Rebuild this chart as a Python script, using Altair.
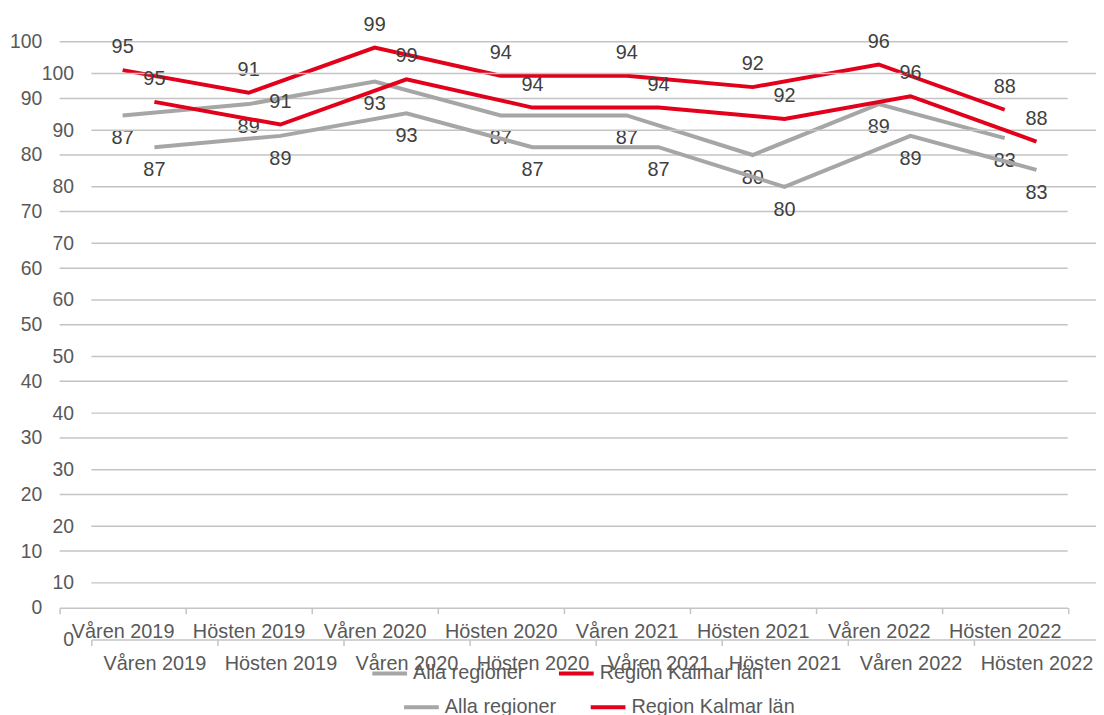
import altair as alt
import pandas as pd

periods = ["Våren 2019", "Hösten 2019", "Våren 2020", "Hösten 2020",
           "Våren 2021", "Hösten 2021", "Våren 2022", "Hösten 2022"]
kalmar = [95, 91, 99, 94, 94, 92, 96, 88]
alla = [87, 89, 93, 87, 87, 80, 89, 83]
series_names = ["Alla regioner", "Region Kalmar län"]
y_ticks = [0, 10, 20, 30, 40, 50, 60, 70, 80, 90, 100]

RED = "#E2001A"
GRAY = "#A6A6A6"
GRID = "#C4C4C4"
TXT = "#595959"
LBL = "#404040"
FONT = "Liberation Sans"
W, H = 1096, 707

rows = []
for p, a, k in zip(periods, alla, kalmar):
    rows.append({"period": p, "series": series_names[0], "value": a})
    rows.append({"period": p, "series": series_names[1], "value": k})
df = pd.DataFrame(rows)
grid_df = pd.DataFrame({"v": y_ticks[1:], "period": periods[0], "period_end": periods[-1]})


def build(xrange, yrange, x_off, y_off, lx, ly):
    xs = alt.Scale(type="band", domain=periods, range=xrange, paddingInner=0, paddingOuter=0)
    ys = alt.Scale(domain=[0, 100], range=yrange, nice=False, zero=False)
    xaxis = alt.Axis(orient="bottom", offset=x_off, title=None, grid=False, tickBand="extent",
                     domainColor=GRID, domainWidth=1.5, tickColor=GRID, tickWidth=1.5, tickSize=6,
                     labelFont=FONT, labelFontSize=20, labelColor=TXT, labelPadding=8,
                     labelAngle=0, labelOverlap=False)
    yaxis = alt.Axis(orient="left", offset=y_off, title=None, grid=False, ticks=False, domain=False,
                     values=y_ticks, labelFont=FONT, labelFontSize=19.5, labelColor=TXT,
                     labelPadding=0, labelOverlap=False, labelFlush=False)
    X = alt.X("period:N", scale=xs, axis=xaxis, bandPosition=0.5)
    grid = alt.Chart(grid_df).mark_rule(color=GRID, strokeWidth=1.5).encode(
        x=alt.X("period:N", scale=xs, axis=xaxis, bandPosition=0),
        x2=alt.X2("period_end", bandPosition=1),
        y=alt.Y("v:Q", scale=ys, axis=yaxis),
    )
    lines = alt.Chart(df).mark_line(strokeWidth=4).encode(
        x=X,
        y=alt.Y("value:Q", scale=ys, axis=yaxis),
        color=alt.Color("series:N", scale=alt.Scale(domain=series_names, range=[GRAY, RED]),
                        legend=alt.Legend(orient="none", legendX=lx, legendY=ly, direction="horizontal",
                                          title=None, symbolType="stroke", symbolSize=1225,
                                          symbolStrokeWidth=4, labelFont=FONT, labelFontSize=20,
                                          labelColor=TXT, labelOffset=4, columnPadding=26,
                                          labelLimit=0, padding=0)),
    )
    top = alt.Chart(df).transform_filter(alt.datum.series == series_names[1]).mark_text(
        font=FONT, fontSize=20, color=LBL, dy=-23, baseline="middle").encode(
        x=X, y=alt.Y("value:Q", scale=ys, axis=yaxis), text="value:Q")
    bot = alt.Chart(df).transform_filter(alt.datum.series == series_names[0]).mark_text(
        font=FONT, fontSize=20, color=LBL, dy=23, baseline="middle").encode(
        x=X, y=alt.Y("value:Q", scale=ys, axis=yaxis), text="value:Q")
    return alt.layer(grid, lines, top, bot)


chart_a = build([52, 1067.5], [601.5, 31.5], -105.5, -34, 365, 648)
chart_b = build([84, 1099.5], [633.5, 63.5], -73.5, -66, 397, 682)

chart = alt.layer(chart_a, chart_b).resolve_scale(
    x="independent", y="independent", color="independent"
).properties(
    width=W, height=H, autosize=alt.AutoSizeParams(type="none"), padding=0,
    background="white"
).configure_view(stroke=None)

chart.save("out.html", embed_options={"renderer": "svg", "actions": False})
